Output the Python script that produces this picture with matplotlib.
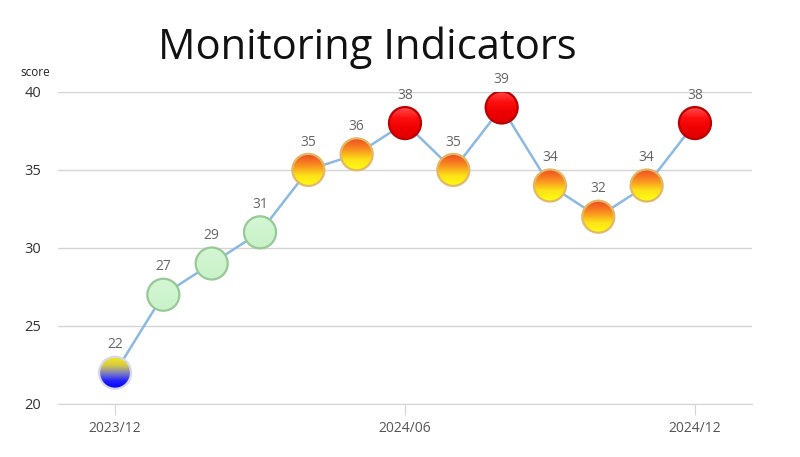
import numpy as np
import matplotlib
matplotlib.use("Agg")
import matplotlib.pyplot as plt
from matplotlib.patches import Circle
from matplotlib.transforms import ScaledTranslation
from matplotlib.colors import LinearSegmentedColormap

plt.rcParams['font.family'] = ['Open Sans', 'DejaVu Sans']

months = ["2023/12", "2024/01", "2024/02", "2024/03", "2024/04", "2024/05", "2024/06",
          "2024/07", "2024/08", "2024/09", "2024/10", "2024/11", "2024/12"]
scores = [22, 27, 29, 31, 35, 36, 38, 35, 39, 34, 32, 34, 38]
shown_ticks = ["2023/12", "2024/06", "2024/12"]

def style_for(v):
    if v < 25:
        return "blue"
    if v < 32:
        return "green"
    if v < 38:
        return "orange"
    return "red"

fig = plt.figure(figsize=(8, 4.57), dpi=100)
ax = fig.add_axes([0.0725, 0.116, 0.8675, 0.683])
x = np.arange(len(months))
ax.set_xlim(-1.18, len(months) - 1 + 1.18)
ax.set_ylim(20, 40)
ax.set_yticks([20, 25, 30, 35, 40])
ax.grid(axis='y', color='#d4d4d4', linewidth=1)
ax.set_axisbelow(True)
for s in ['top', 'right', 'left']:
    ax.spines[s].set_visible(False)
ax.spines['bottom'].set_color('#d4d4d4')
ax.tick_params(axis='y', length=0, labelsize=10.5, labelcolor='#333333', pad=12)
tick_idx = [months.index(m) for m in shown_ticks]
ax.set_xticks(tick_idx)
ax.set_xticklabels(shown_ticks)
ax.tick_params(axis='x', length=8, color='#d4d4d4', labelsize=10, labelcolor='#555555', pad=4)

ax.plot(x, scores, color='#8cb8e2', linewidth=1.8, zorder=2)

cmaps = {
    "blue": LinearSegmentedColormap.from_list("b", ["#f4e81c", "#d8cc40", "#8080c0", "#2020ff", "#0000f0"]),
    "green": LinearSegmentedColormap.from_list("g", ["#d4f7d4", "#c8f2c8"]),
    "orange": LinearSegmentedColormap.from_list("o", ["#f04a22", "#f88a20", "#fde018", "#ffff10"]),
    "red": LinearSegmentedColormap.from_list("r", ["#ff5050", "#ff1010", "#ee0000", "#e00000"]),
}
edges = {"blue": "#d8d8e8", "green": "#98c898", "orange": "#e2b868", "red": "#b80000"}

fig.canvas.draw()
r_px = 16
inv = ax.transData.inverted()
grad = np.linspace(0, 1, 256).reshape(-1, 1)
for xi, v in zip(x, scores):
    st = style_for(v)
    px, py = ax.transData.transform((xi, v))
    (x0, y0) = inv.transform((px - r_px, py - r_px))
    (x1, y1) = inv.transform((px + r_px, py + r_px))
    im = ax.imshow(grad, cmap=cmaps[st], extent=[x0, x1, y0, y1], origin='upper',
                   aspect='auto', zorder=3, interpolation='bilinear')
    trans = fig.dpi_scale_trans + ScaledTranslation(xi, v, ax.transData)
    clip = Circle((0, 0), r_px / 100.0, transform=trans, facecolor='none')
    ax.add_patch(clip)
    clip.set_visible(False)
    im.set_clip_path(clip)
    edge = Circle((0, 0), r_px / 100.0, transform=trans, facecolor='none',
                  edgecolor=edges[st], linewidth=1.6, zorder=4)
    ax.add_patch(edge)
    ax.annotate(str(v), (xi, v), xytext=(0, 20), textcoords='offset points',
                ha='center', va='center', fontsize=10, color='#666666', zorder=5)

ax.set_xlim(-1.18, len(months) - 1 + 1.18)
ax.set_ylim(20, 40)

fig.text(0.044, 0.842, "score", fontsize=8.5, color='#222222', ha='center', va='center')
fig.text(0.459, 0.895, "Monitoring Indicators", fontsize=30, color='#111111', ha='center', va='center')

fig.savefig("out.png", dpi=100)
